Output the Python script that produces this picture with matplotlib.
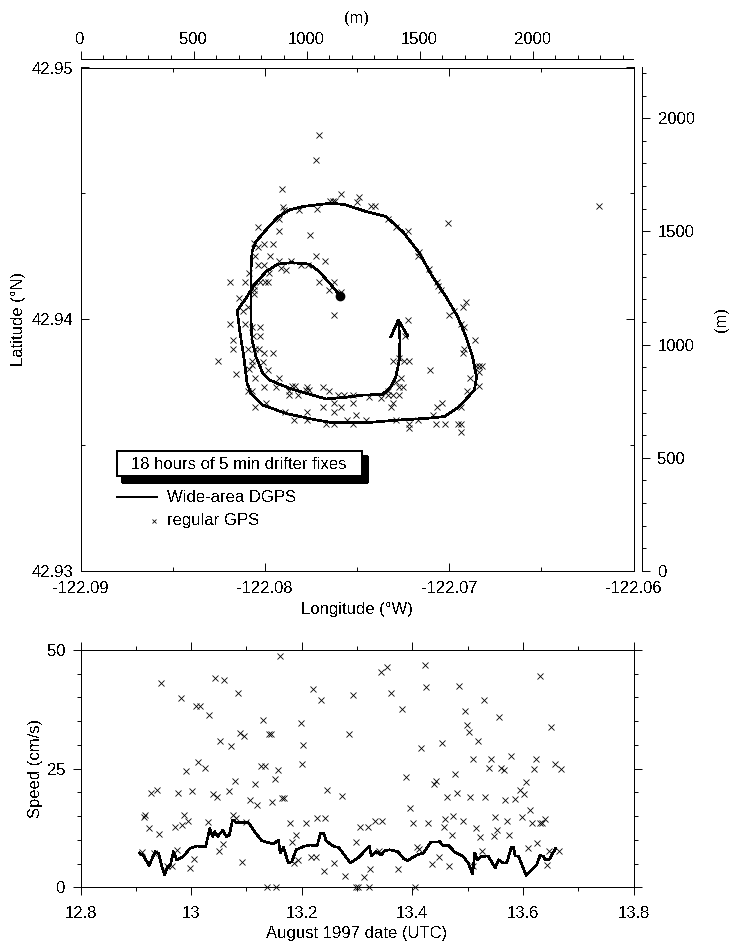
import numpy as np
import matplotlib
matplotlib.use('Agg')
import matplotlib.pyplot as plt
from matplotlib.patches import Rectangle
from matplotlib.lines import Line2D
from matplotlib.ticker import MultipleLocator

plt.rcParams.update({'font.family': ['Liberation Sans', 'DejaVu Sans'], 'font.size': 12,
                     'text.antialiased': False, 'lines.antialiased': False,
                     'patch.antialiased': False, 'axes.linewidth': 0.7})

# Regular GPS fixes, metres east and north of the map corner
gps_east = [1056,1043,893,1151,1104,1115,1127,1233,1221,1286,1301,894,902,965,1045,880,1359,1395,1450,1627,785,880,1015,769,784,810,853,840,772,1043,1083,1499,1491,880,931,784,810,835,975,1005,887,909,747,1543,663,729,796,816,830,1056,1123,1575,1580,769,769,769,1098,1152,1594,703,740,718,1123,1631,1705,1694,1653,663,729,759,796,1450,1683,1697,796,762,1437,673,673,1746,740,774,788,810,853,1697,1690,759,809,607,759,1384,1410,1432,1451,747,828,1547,1749,1761,1776,688,1761,1722,771,880,1417,1395,813,865,936,950,1000,1012,1071,1098,1410,1425,1761,759,740,921,921,961,998,1138,1164,1204,1275,1329,1359,1359,1381,1410,1709,1123,1204,1071,1152,1123,1373,1381,772,821,906,1000,1219,1575,1599,1557,1683,946,1000,1177,1263,1086,1120,1204,1395,1491,1451,1451,1572,1613,1668,1683,1683,2294]
gps_north = [1927,1816,1687,1667,1635,1635,1635,1651,1632,1611,1611,1610,1595,1594,1598,1555,1555,1521,1501,1538,1519,1501,1482,1448,1429,1445,1445,1390,1390,1390,1370,1408,1390,1370,1370,1352,1352,1315,1352,1352,1337,1331,1315,1333,1278,1278,1278,1278,1278,1278,1278,1278,1261,1261,1242,1224,1242,1234,1239,1205,1168,1150,1130,1130,1186,1168,1150,1093,1093,1076,1076,1110,1093,1076,1037,1037,1037,1019,982,1019,982,982,982,964,964,982,964,929,925,926,910,928,942,928,928,892,888,889,907,907,907,870,881,851,851,851,851,836,814,814,819,819,814,799,814,797,814,814,817,797,797,797,777,777,799,777,777,777,770,763,797,777,777,777,797,741,741,723,723,704,723,741,723,741,704,704,689,723,741,689,723,667,667,667,667,649,649,649,667,667,649,630,649,649,649,649,612,1613]
# Wide-area DGPS track
track_east = [1148,1108,1056,1012,931,872,821,769,732,693,706,722,737,754,806,909,1042,1115,1263,1410,1528,1609,1675,1742,1752,1734,1705,1668,1616,1557,1499,1425,1351,1263,1174,1115,1042,983,924,872,821,776,759,754,754,754,759,776,806,835,924,998,1086,1160,1248,1336,1373,1395,1410,1413,1406]
track_north = [1216,1264,1323,1356,1362,1355,1323,1264,1205,1149,1050,947,829,785,733,696,667,655,655,667,674,682,726,799,858,947,1035,1124,1212,1300,1404,1499,1566,1588,1617,1625,1617,1610,1595,1563,1507,1455,1411,1330,1227,1109,1020,947,873,844,807,785,760,766,777,780,814,858,932,1020,1109]
head_east = [1373, 1406, 1447]
head_north = [1035, 1109, 1038]
# Speed panel
gps_date = [12.911,12.914,12.917,12.923,12.942,12.933,12.928,12.938,12.946,12.956,12.966,12.974,12.970,12.977,12.981,12.984,12.988,12.994,12.990,12.998,13.001,13.005,13.008,13.016,13.012,13.026,13.033,13.030,13.040,13.046,13.043,13.060,13.051,13.057,13.053,13.068,13.072,13.075,13.081,13.080,13.085,13.089,13.096,13.092,13.099,13.106,13.116,13.120,13.126,13.133,13.130,13.138,13.154,13.141,13.145,13.147,13.151,13.158,13.161,13.165,13.168,13.179,13.183,13.186,13.190,13.194,13.199,13.201,13.203,13.208,13.217,13.225,13.220,13.228,13.235,13.240,13.243,13.246,13.258,13.272,13.279,13.286,13.292,13.298,13.298,13.302,13.305,13.313,13.319,13.324,13.322,13.332,13.346,13.340,13.343,13.354,13.361,13.374,13.382,13.388,13.396,13.402,13.405,13.409,13.412,13.416,13.423,13.425,13.429,13.435,13.439,13.443,13.448,13.454,13.457,13.460,13.463,13.467,13.471,13.474,13.477,13.481,13.484,13.492,13.495,13.499,13.502,13.505,13.509,13.510,13.516,13.519,13.523,13.526,13.530,13.532,13.539,13.543,13.547,13.550,13.554,13.557,13.561,13.565,13.568,13.571,13.574,13.579,13.585,13.594,13.599,13.602,13.606,13.609,13.613,13.617,13.620,13.624,13.626,13.631,13.631,13.635,13.640,13.644,13.647,13.651,13.658,13.666,13.669]
gps_speed = [7.5,14.9,15.3,12.4,11.3,7.2,19.9,20.5,43.1,4.5,4.5,7.9,12.7,19.8,39.9,13.2,15.3,13.9,24.5,4.1,20.3,6.0,38.3,38.1,26.4,25.1,36.3,13.8,19.7,19.1,44.0,43.7,7.7,9.1,30.8,20.3,29.8,15.3,14.6,22.4,41.0,32.6,31.9,5.3,13.7,18.3,21.8,17.3,25.5,25.5,35.3,0.0,0.0,32.3,32.3,17.9,22.8,24.7,48.7,18.9,18.9,13.6,9.6,5.1,11.0,5.7,34.6,25.9,30.0,13.6,6.3,6.3,41.8,14.7,39.4,3.4,14.6,20.5,5.1,19.3,2.3,32.2,40.5,9.6,0.0,0.0,12.8,2.2,12.8,3.9,0.0,14.0,13.9,7.7,45.4,46.5,40.9,3.9,37.6,23.3,16.7,13.6,0.0,8.4,8.1,29.3,46.9,42.3,13.5,5.0,21.8,22.5,6.3,30.5,12.7,14.3,19.1,4.5,11.1,15.1,23.9,19.8,42.5,14.0,37.2,34.2,32.8,19.0,27.1,4.4,12.6,30.8,10.5,7.7,39.5,19.0,25.1,27.1,10.8,14.9,12.0,35.9,25.1,24.8,18.3,14.0,11.0,27.7,18.6,20.6,14.8,19.7,22.2,8.3,16.2,13.6,25.0,27.1,9.3,44.6,13.6,13.6,14.4,4.6,7.7,33.8,25.9,7.6,25.0]
dgps_date = [12.907,12.914,12.924,12.935,12.941,12.947,12.952,12.957,12.963,12.968,12.974,12.986,12.998,13.010,13.026,13.034,13.039,13.043,13.048,13.057,13.064,13.069,13.075,13.083,13.104,13.116,13.128,13.149,13.158,13.161,13.167,13.176,13.182,13.190,13.203,13.215,13.228,13.234,13.240,13.244,13.258,13.267,13.288,13.305,13.322,13.326,13.335,13.344,13.350,13.359,13.374,13.384,13.391,13.408,13.420,13.433,13.450,13.456,13.465,13.477,13.492,13.501,13.509,13.513,13.518,13.525,13.537,13.550,13.556,13.565,13.571,13.579,13.583,13.586,13.592,13.606,13.625,13.631,13.638,13.640,13.648,13.659]
dgps_speed = [7.2,6.6,4.6,7.5,7.2,4.4,2.7,4.1,4.9,7.5,5.8,6.5,8.2,8.7,8.5,12.4,10.7,11.7,10.7,12.0,10.7,11.0,14.2,13.6,13.6,11.5,9.8,9.1,10.0,7.2,8.4,5.1,5.4,7.9,8.6,8.9,8.8,11.4,11.4,9.8,8.6,8.4,5.1,6.5,8.7,6.7,7.5,6.8,7.7,7.9,7.5,6.1,5.6,6.8,7.2,9.5,9.6,8.7,8.9,7.4,6.5,5.1,2.8,7.2,5.8,6.5,6.6,4.1,5.8,5.1,5.2,8.4,8.4,6.6,6.6,2.5,4.7,6.7,6.5,5.8,5.9,8.2]

lon_ticks = [-122.09, -122.08, -122.07, -122.06]
lon_minor = [-122.085, -122.075, -122.065]
lat_ticks = [42.93, 42.94, 42.95]
lat_minor = [42.935, 42.945]
lon_labels = ['-122.09', '-122.08', '-122.07', '-122.06']
lat_labels = ['42.93', '42.94', '42.95']
date_ticks = [12.8, 13.0, 13.2, 13.4, 13.6, 13.8]
date_labels = ['12.8', '13', '13.2', '13.4', '13.6', '13.8']
speed_ticks = [0, 25, 50]
metre_ticks = [0, 500, 1000, 1500, 2000]

W, H = 741, 952
XMAX, YMAX = 2446, 2224
lon2m = lambda v: (np.asarray(v) + 122.09) / 0.03 * XMAX
lat2m = lambda v: (np.asarray(v) - 42.93) / 0.02 * YMAX
MAJ, MIN, LW = 5.8, 3, 0.7

fig = plt.figure(figsize=(W / 100, H / 100), dpi=100)
L, R, T1, B1 = 80.5, 633.5, 67.5, 571
ax = fig.add_axes([L / W, 1 - B1 / H, (R - L) / W, (B1 - T1) / H])
ax.set_xlim(0, XMAX)
ax.set_ylim(0, YMAX)
ax.set_xticks(lon2m(lon_ticks), lon_labels)
ax.set_yticks(lat2m(lat_ticks), lat_labels)
ax.set_xticks(lon2m(lon_minor), minor=True)
ax.set_yticks(lat2m(lat_minor), minor=True)
ax.tick_params(which='major', direction='in', length=MAJ, width=LW, top=True, right=True, pad=5)
ax.tick_params(which='minor', direction='in', length=MIN, width=LW, top=True, right=True)
ax.tick_params(axis='x', which='major', pad=7)
ax.set_xlabel('Longitude (°W)', labelpad=4.5)
ax.set_ylabel('Latitude (°N)', labelpad=4)
ax.plot(track_east, track_north, color='k', lw=1.2, solid_joinstyle='round')
ax.plot(head_east, head_north, color='k', lw=1.2)
ax.plot(track_east[:1], track_north[:1], 'o', color='k', ms=6)
ax.plot(gps_east, gps_north, 'x', color='k', ms=4.2, mew=.6)

top = ax.secondary_xaxis(1 + 8 / 503.5)
top.set_xticks(metre_ticks)
top.xaxis.set_minor_locator(MultipleLocator(100))
top.tick_params(which='major', direction='out', length=MAJ, width=LW, pad=3)
top.tick_params(which='minor', direction='out', length=MIN, width=LW)
top.set_xlabel('(m)', labelpad=7)
right = ax.secondary_yaxis(1 + 8 / 553)
right.set_yticks(metre_ticks)
right.yaxis.set_minor_locator(MultipleLocator(100))
right.tick_params(which='major', direction='out', length=MAJ, width=LW, pad=6)
right.tick_params(which='minor', direction='out', length=MIN, width=LW)
right.set_ylabel('(m)', labelpad=14, rotation=90)

pt = lambda x, y: ((x - L) / (R - L), (B1 - y) / (B1 - T1))
tr = ax.transAxes
x0, y0 = pt(122, 482); x1, y1 = pt(367, 456)
ax.add_patch(Rectangle((x0, y0), x1 - x0, y1 - y0, transform=tr, fc='k', ec='k', zorder=5))
x0, y0 = pt(117, 476); x1, y1 = pt(361.5, 451)
ax.add_patch(Rectangle((x0, y0), x1 - x0, y1 - y0, transform=tr, fc='w', ec='k', lw=1.2, zorder=6))
ax.text(*pt(239, 464.5), '18 hours of 5 min drifter fixes', transform=tr, ha='center', va='center', zorder=7)
ax.add_line(Line2D(*zip(pt(117, 496.5), pt(157, 496.5)), transform=tr, color='k', lw=1.2))
ax.text(*pt(167, 497), 'Wide-area DGPS', transform=tr, ha='left', va='center')
ax.plot(*pt(154, 521), 'x', color='k', ms=3.4, mew=.6, transform=tr)
ax.text(*pt(167, 520), 'regular GPS', transform=tr, ha='left', va='center')

T2, B2 = 650, 887.3
bx = fig.add_axes([L / W, 1 - B2 / H, (R - L) / W, (B2 - T2) / H])
bx.set_xlim(12.8, 13.8)
bx.set_ylim(0, 50)
bx.set_xticks(date_ticks, date_labels)
bx.set_yticks(speed_ticks, [str(v) for v in speed_ticks])
bx.xaxis.set_minor_locator(MultipleLocator(.1))
bx.yaxis.set_minor_locator(MultipleLocator(5))
bx.tick_params(which='major', direction='out', length=MAJ, width=LW, top=True, right=True, pad=5)
bx.tick_params(which='minor', direction='out', length=MIN, width=LW, top=True, right=True)
bx.tick_params(axis='x', which='major', pad=8)
bx.set_xlabel('August 1997 date (UTC)', labelpad=3)
bx.set_ylabel('Speed (cm/s)', labelpad=3)
bx.plot(dgps_date, dgps_speed, color='k', lw=1.2)
bx.plot(gps_date, gps_speed, 'x', color='k', ms=4.2, mew=.6, clip_on=False)

fig.savefig('out.png', dpi=100)
